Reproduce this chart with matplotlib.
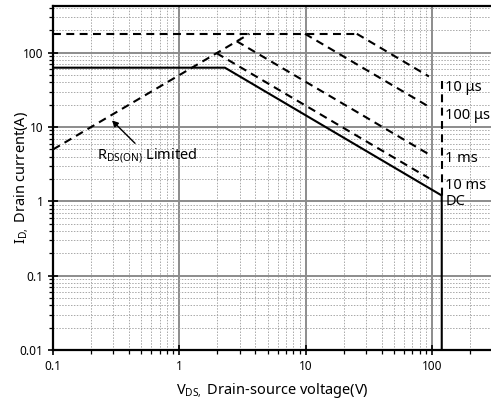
import matplotlib
matplotlib.use("Agg")
import matplotlib.pyplot as plt
from matplotlib.ticker import LogLocator, FixedLocator, FixedFormatter, NullFormatter

plt.rcParams['font.family'] = ['Noto Sans', 'DejaVu Sans']

# ---- data ----
dc_v = [0.1, 2.3, 120, 120]
dc_i = [63, 63, 1.2, 0.01]
rds_v = [0.1, 3.6]
rds_i = [5.0, 180]
top_v = [0.1, 25.5]
top_i = [180, 180]
us10_v = [25.5, 95]
us10_i = [180, 48]
us100_v = [9.9, 95]
us100_i = [180, 18.8]
ms1_v = [2.85, 95]
ms1_i = [143, 4.3]
ms10_v = [1.97, 95]
ms10_i = [99, 2.05]
vlim_v = [120, 120]
vlim_i = [42, 1.2]

labels = ["10 μs", "100 μs", "1 ms", "10 ms", "DC"]
label_i = [33.8, 14.2, 3.79, 1.64, 1.0]
label_v = 128

xticks = [0.1, 1, 10, 100]
xticklabels = ["0.1", "1", "10", "100"]
yticks = [0.01, 0.1, 1, 10, 100]
yticklabels = ["0.01", "0.1", "1", "10", "100"]

fig = plt.figure(figsize=(4.91, 4.07), dpi=100)
ax = fig.add_axes([0.108, 0.140, 0.894, 0.846])
ax.set_xscale('log')
ax.set_yscale('log')
ax.set_xlim(0.1, 300)
ax.set_ylim(0.01, 430)

# grid
ax.grid(True, which='major', color='#8c8c8c', linewidth=1.4, linestyle='-')
ax.grid(True, which='minor', color='#a8a8a8', linewidth=0.7, linestyle=(0, (1.5, 1.5)))
ax.set_axisbelow(True)

dash = (0, (3.8, 2.6))
lw = 1.5
ax.plot(dc_v, dc_i, color='black', linewidth=lw, solid_capstyle='butt')
for v, i in [(rds_v, rds_i), (top_v, top_i), (us10_v, us10_i), (us100_v, us100_i),
             (ms1_v, ms1_i), (ms10_v, ms10_i), (vlim_v, vlim_i)]:
    ax.plot(v, i, color='black', linewidth=lw, linestyle=dash)

for t, yi in zip(labels, label_i):
    ax.text(label_v, yi, t, fontsize=10.5, ha='left', va='center', color='black')

ax.annotate(r"R$_{\mathregular{DS(ON)}}$ Limited", xy=(0.293, 12.3), xytext=(0.223, 4.16),
            fontsize=10.5, ha='left', va='center',
            arrowprops=dict(arrowstyle='-|>', color='black', lw=1.0,
                            shrinkA=0, shrinkB=0, mutation_scale=9))

ax.xaxis.set_major_locator(FixedLocator(xticks))
ax.xaxis.set_major_formatter(FixedFormatter(xticklabels))
ax.yaxis.set_major_locator(FixedLocator(yticks))
ax.yaxis.set_major_formatter(FixedFormatter(yticklabels))
ax.xaxis.set_minor_locator(LogLocator(base=10, subs=range(2, 10), numticks=20))
ax.yaxis.set_minor_locator(LogLocator(base=10, subs=range(2, 10), numticks=20))
ax.xaxis.set_minor_formatter(NullFormatter())
ax.yaxis.set_minor_formatter(NullFormatter())

ax.tick_params(which='major', direction='inout', length=7, width=1.2, labelsize=8.5)
ax.tick_params(which='minor', direction='out', length=3, width=0.9)

for s in ['left', 'bottom', 'top']:
    ax.spines[s].set_linewidth(1.6)
ax.spines['right'].set_visible(False)

ax.set_xlabel(r"V$_{\mathregular{DS,}}$ Drain-source voltage(V)", fontsize=10.5, labelpad=6)
ax.set_ylabel(r"I$_{\mathregular{D,}}$ Drain current(A)", fontsize=10.5)
ax.yaxis.set_label_coords(-0.05, 0.5)

fig.savefig("out.png", dpi=100)
